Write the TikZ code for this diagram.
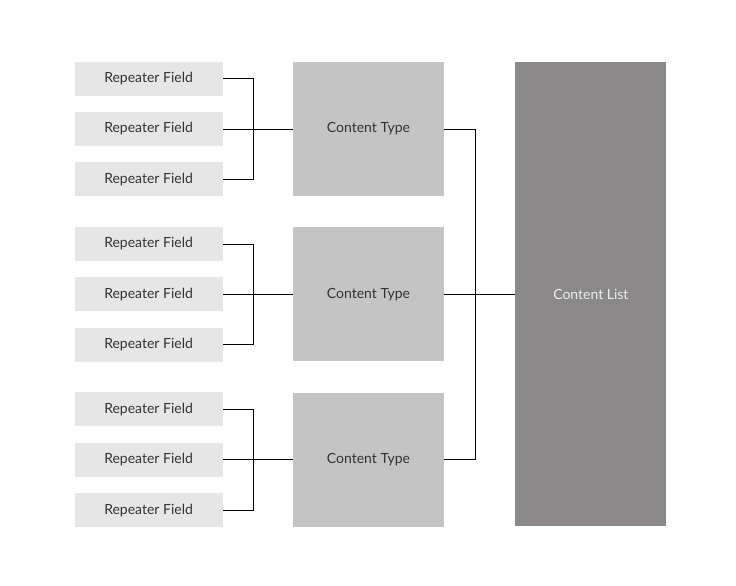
\documentclass[tikz,border=0pt]{standalone}
\usepackage{fontspec}
\setmainfont{Lato}
\usetikzlibrary{positioning}
\definecolor{fieldgray}{HTML}{E6E6E6}
\definecolor{typegray}{HTML}{C4C4C4}
\definecolor{listgray}{HTML}{8A8888}
\definecolor{textgray}{HTML}{333333}
\begin{document}
\begin{tikzpicture}[x=1pt,y=-1pt,
field/.style={fill=fieldgray,
  minimum width=148pt,
  minimum height=34pt,
  inner sep=0pt,text=textgray,
  node font=\fontsize{14}{16}\selectfont
},
ctype/.style={fill=typegray,
  minimum width=151pt,
  minimum height=134pt,
  inner sep=0pt,text=textgray,
  node font=\fontsize{14}{16}\selectfont
},
clist/.style={fill=listgray,
  minimum width=151pt,
  minimum height=464pt,
  inner sep=0pt,text=white!93!black,
  node font=\fontsize{14}{16}\selectfont
},
link/.style={black,line width=0.8pt}]

\useasboundingbox (0,0) rectangle (736,586);

\node (ct1) [ctype] at (368.5,129) {Content Type};
\node (ct2) [ctype, below=31pt of ct1] {Content Type};
\node (ct3) [ctype, below=31pt of ct2] {Content Type};
\node (cl) [clist, right=71pt of ct2] {Content List};

\node (rf12) [field, left=70pt of ct1] {Repeater Field};
\node (rf11) [field, above=16pt of rf12] {Repeater Field};
\node (rf13) [field, below=16pt of rf12] {Repeater Field};
\node (rf22) [field, left=70pt of ct2] {Repeater Field};
\node (rf21) [field, above=16pt of rf22] {Repeater Field};
\node (rf23) [field, below=16pt of rf22] {Repeater Field};
\node (rf32) [field, left=70pt of ct3] {Repeater Field};
\node (rf31) [field, above=16pt of rf32] {Repeater Field};
\node (rf33) [field, below=16pt of rf32] {Repeater Field};

% brackets from the fields to each type
\coordinate [right=31pt of rf12.east] (j1);
\coordinate [right=31pt of rf22.east] (j2);
\coordinate [right=31pt of rf32.east] (j3);
\draw [link] (rf11.east) -| (j1) |- (rf13.east);
\draw [link] (rf12.east) to (ct1.west);
\draw [link] (rf21.east) -| (j2) |- (rf23.east);
\draw [link] (rf22.east) to (ct2.west);
\draw [link] (rf31.east) -| (j3) |- (rf33.east);
\draw [link] (rf32.east) to (ct3.west);

% types into the list
\coordinate [right=31pt of ct2.east] (k);
\draw [link] (ct1.east) -| (k) |- (ct3.east);
\draw [link] (ct2.east) to (cl.west);

\end{tikzpicture}
\end{document}
